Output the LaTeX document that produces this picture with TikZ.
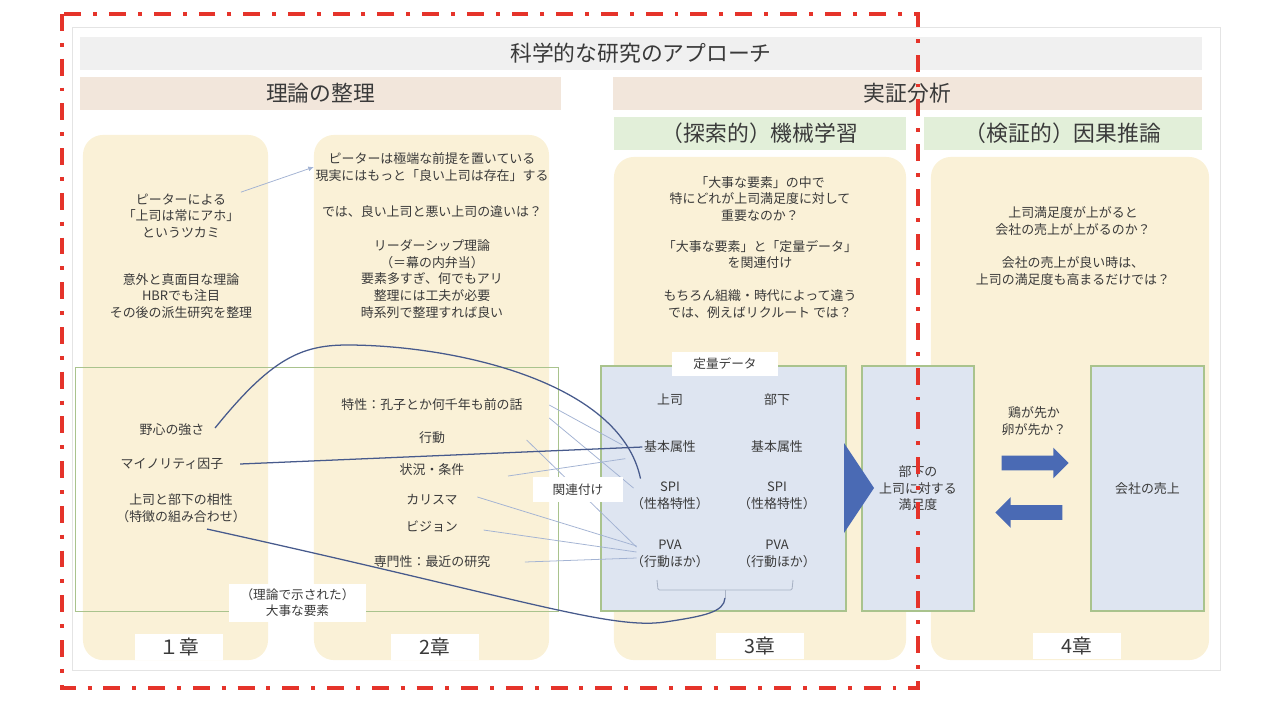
\documentclass[tikz,border=0pt]{standalone}
\usepackage{fontspec}
\setmainfont{Noto Sans CJK JP}
\usepackage{tikz}
\usetikzlibrary{calc,positioning,shapes.arrows,arrows.meta}

\definecolor{textgray}{HTML}{3A3A3A}
\definecolor{framegray}{HTML}{E4E4E4}
\definecolor{titlegray}{HTML}{F0F0F0}
\definecolor{sectionbeige}{HTML}{F2E6DB}
\definecolor{methodgreen}{HTML}{E2EFD9}
\definecolor{panelyellow}{HTML}{FAF1D7}
\definecolor{boxgreen}{HTML}{A9C38D}
\definecolor{databluefill}{HTML}{DEE5F1}
\definecolor{arrowblue}{HTML}{4A6AB4}
\definecolor{linkdark}{HTML}{475A8C}
\definecolor{linklight}{HTML}{A3B3D3}
\definecolor{bracegray}{HTML}{A8B2C4}
\definecolor{framered}{HTML}{E5332A}

\begin{document}
\begin{tikzpicture}[x=0.025cm, y=-0.025cm,
outerframe/.style={rectangle, draw=framegray, line width=0.6pt, minimum width=28.675cm, minimum height=16.075cm, inner sep=0pt},
titlebar/.style={rectangle, fill=titlegray, minimum height=0.825cm, inner sep=0pt, font=\fontsize{15.5}{18}\selectfont, text=textgray},
sectionbar/.style={titlebar, fill=sectionbeige},
methodbar/.style={titlebar, fill=methodgreen},
chapterpanel/.style={rectangle, rounded corners=0.5cm, fill=panelyellow, inner sep=0pt},
chapterlabel/.style={rectangle, fill=white, minimum width=2.2cm, minimum height=0.65cm, inner sep=0pt, font=\fontsize{14}{16}\selectfont, text=textgray},
groupbox/.style={rectangle, draw=boxgreen, line width=0.6pt, inner sep=0pt},
databox/.style={rectangle, draw=boxgreen, line width=0.8pt, fill=databluefill, minimum height=6.125cm, inner sep=0pt, font=\fontsize{9.2}{11.8}\selectfont, text=textgray},
whitelabel/.style={rectangle, fill=white, inner sep=0pt, font=\fontsize{9}{11.5}\selectfont, text=textgray},
item/.style={inner sep=1pt, font=\fontsize{9.2}{11.8}\selectfont, text=textgray},
blockarrow/.style={single arrow, fill=arrowblue, minimum height=1.675cm, inner xsep=0pt, inner ysep=0.175cm, single arrow head extend=0.2cm, single arrow tip angle=90},
mainlink/.style={draw=linkdark, line width=0.9pt},
sublink/.style={draw=linklight, line width=0.55pt},
nodes = {align = center}
]
\useasboundingbox (0,0) rectangle (1280,712);

%Frame and headers
\node[outerframe]  (frame)    at (646.5,348.5) {};
\node[titlebar, minimum width=28.05cm]   (approach) at (641,53.5)   {科学的な研究のアプローチ};
\node[sectionbar, minimum width=12.025cm] (theory)   at (320.5,93.5)  {理論の整理};
\node[sectionbar, minimum width=14.725cm] (empirical) at (907.5,93.5) {実証分析};
\node[methodbar, minimum width=7.3cm]     (mlbar)    at (760,133.5)   {（探索的）機械学習};
\node[methodbar, minimum width=6.95cm]    (causalbar) at (1063,133.5) {（検証的）因果推論};

%Panels
\node[chapterpanel, minimum width=4.625cm, minimum height=13.125cm] (panel1) at (175.5,397.5) {};
\node[chapterpanel, minimum width=5.875cm, minimum height=13.125cm] (panel2) at (431.5,397.5) {};
\node[chapterpanel, minimum width=7.3cm,   minimum height=12.575cm] (panel3) at (760,408.5)   {};
\node[chapterpanel, minimum width=6.95cm,  minimum height=12.575cm] (panel4) at (1070,408.5)  {};

\node[chapterlabel] (ch1) at (179,647)  {１章};
\node[chapterlabel] (ch2) at (435,647)  {2章};
\node[chapterlabel] (ch3) at (760,646)  {3章};
\node[chapterlabel] (ch4) at (1077,646) {4章};

%Boxes
\node[groupbox, minimum width=12.075cm, minimum height=6.1cm] (theorygroup) at (316.5,489) {};
\node[databox, minimum width=6.125cm] (datatable)    at (723.5,488.5) {};
\node[databox, minimum width=2.8cm]   (satisfaction) at (918,488.5)
                          {部下の\\上司に対する\\満足度};
\node[databox, minimum width=2.825cm] (sales)        at (1147.5,488.5) {会社の売上};
\node[whitelabel, minimum width=2.65cm, minimum height=0.6cm] (datalabel) at (725,364) {定量データ};

%Texts
\node[item] (peter1)  at (181,216) {ピーターによる\\「上司は常にアホ」\\というツカミ};
\node[item] (serious) at (181,296) {意外と真面目な理論\\HBRでも注目\\その後の派生研究を整理};
\node[item] (peter2)  at (432,167) {ピーターは極端な前提を置いている\\現実にはもっと「良い上司は存在」する};
\node[item] (goodbad) at (432,212) {では、良い上司と悪い上司の違いは？};
\node[item] (leader)  at (432,279) {リーダーシップ理論\\（＝幕の内弁当）\\要素多すぎ、何でもアリ\\整理には工夫が必要\\時系列で整理すれば良い};
\node[item] (ml1) at (760,199)   {「大事な要素」の中で\\特にどれが上司満足度に対して\\重要なのか？};
\node[item] (ml2) at (760,254.5) {「大事な要素」と「定量データ」\\を関連付け};
\node[item] (ml3) at (760,304)   {もちろん組織・時代によって違う\\では、例えばリクルート では？};
\node[item] (ci1) at (1073,221)  {上司満足度が上がると\\会社の売上が上がるのか？};
\node[item] (ci2) at (1073,271)  {会社の売上が良い時は、\\上司の満足度も高まるだけでは？};

\node[item] (ambition)  at (172,430) {野心の強さ};
\node[item] (minority)  at (172,464) {マイノリティ因子};
\node[item] (pair)      at (181,508) {上司と部下の相性\\（特徴の組み合わせ）};
\node[item] (trait)     at (432,405) {特性：孔子とか何千年も前の話};
\node[item] (action)    at (432,438) {行動};
\node[item] (situation) at (432,470) {状況・条件};
\node[item] (charisma)  at (432,500) {カリスマ};
\node[item] (vision)    at (432,527) {ビジョン};
\node[item] (expertise) at (432,562) {専門性：最近の研究};

\node[item] (boss)   at (670,400) {上司};
\node[item] (sub)    at (777,400) {部下};
\node[item] (basic1) at (670,447) {基本属性};
\node[item] (basic2) at (777,447) {基本属性};
\node[item] (spi1)   at (670,496) {SPI\\（性格特性）};
\node[item] (spi2)   at (777,496) {SPI\\（性格特性）};
\node[item] (pva1)   at (670,554) {PVA\\（行動ほか）};
\node[item] (pva2)   at (777,554) {PVA\\（行動ほか）};
\node[item] (chicken) at (1034,421) {鶏が先か\\卵が先か？};

%Arrows
\fill[arrowblue] (844,443) -- (844,533) -- (874,488) -- cycle;
\node[blockarrow] (forward)  at (1031.5,463) {};
\node[blockarrow, shape border rotate=180] (backward) at (1032.5,512.5) {};

%Bracket
\draw[bracegray, line width=0.6pt, rounded corners=1pt] (657,580) -- (658,590) -- (792,590) -- (793,580);
\draw[bracegray, line width=0.6pt] (725,590) -- (725,598) coordinate (bracetip);

%Lines
\draw[sublink, -{Latex[length=4pt,width=3.5pt]}] (peter1.north east) -- (peter2.west);
\draw[sublink] ($(trait.east)+(25,0)$)      -- ($(basic1.west)+(-20,-2)$);
\draw[sublink] ($(trait.east)+(25,13)$)     -- ($(spi1.west)+(4,-8)$);
\draw[sublink] ($(action.east)+(80,2)$)     -- ($(pva1.west)+(7,-7)$);
\draw[sublink] ($(situation.east)+(42,6)$)  -- ($(basic1.south west)+(-17,4)$);
\draw[sublink] ($(charisma.east)+(18,-3)$)  -- ($(pva1.west)+(7,-8)$);
\draw[sublink] ($(vision.east)+(24,3)$)     -- ($(pva1.west)+(7,-2)$);
\draw[sublink] ($(expertise.east)+(33,0)$)  -- ($(pva1.west)+(7,4)$);
\draw[mainlink] ($(minority.east)+(15,0)$) -- (basic1.west);
\draw[mainlink] ($(ambition.east)+(9,-2)$) .. controls (270,360) and (300,345) .. (347,345)
                .. controls (450,345) and (620,380) .. ($(spi1.north west)+(11,-2)$);
\draw[mainlink] ($(pair.south)+(26,5)$) .. controls (520,598) and (610,630) .. (665,622)
                .. controls (705,616) and (724,612) .. (bracetip);

\node[whitelabel, minimum width=2.25cm, minimum height=0.625cm] (linklabel) at (578,489.5) {関連付け};
\node[whitelabel, minimum width=3.425cm, minimum height=0.95cm] (theorylabel) at (297.5,603)
                          {（理論で示された）\\大事な要素};

%Focus frame
\draw[framered, line width=2.6pt, dash pattern=on 12pt off 8.5pt on 2.8pt off 8.5pt] (62,14) rectangle (918,688);

\end{tikzpicture}
\end{document}
